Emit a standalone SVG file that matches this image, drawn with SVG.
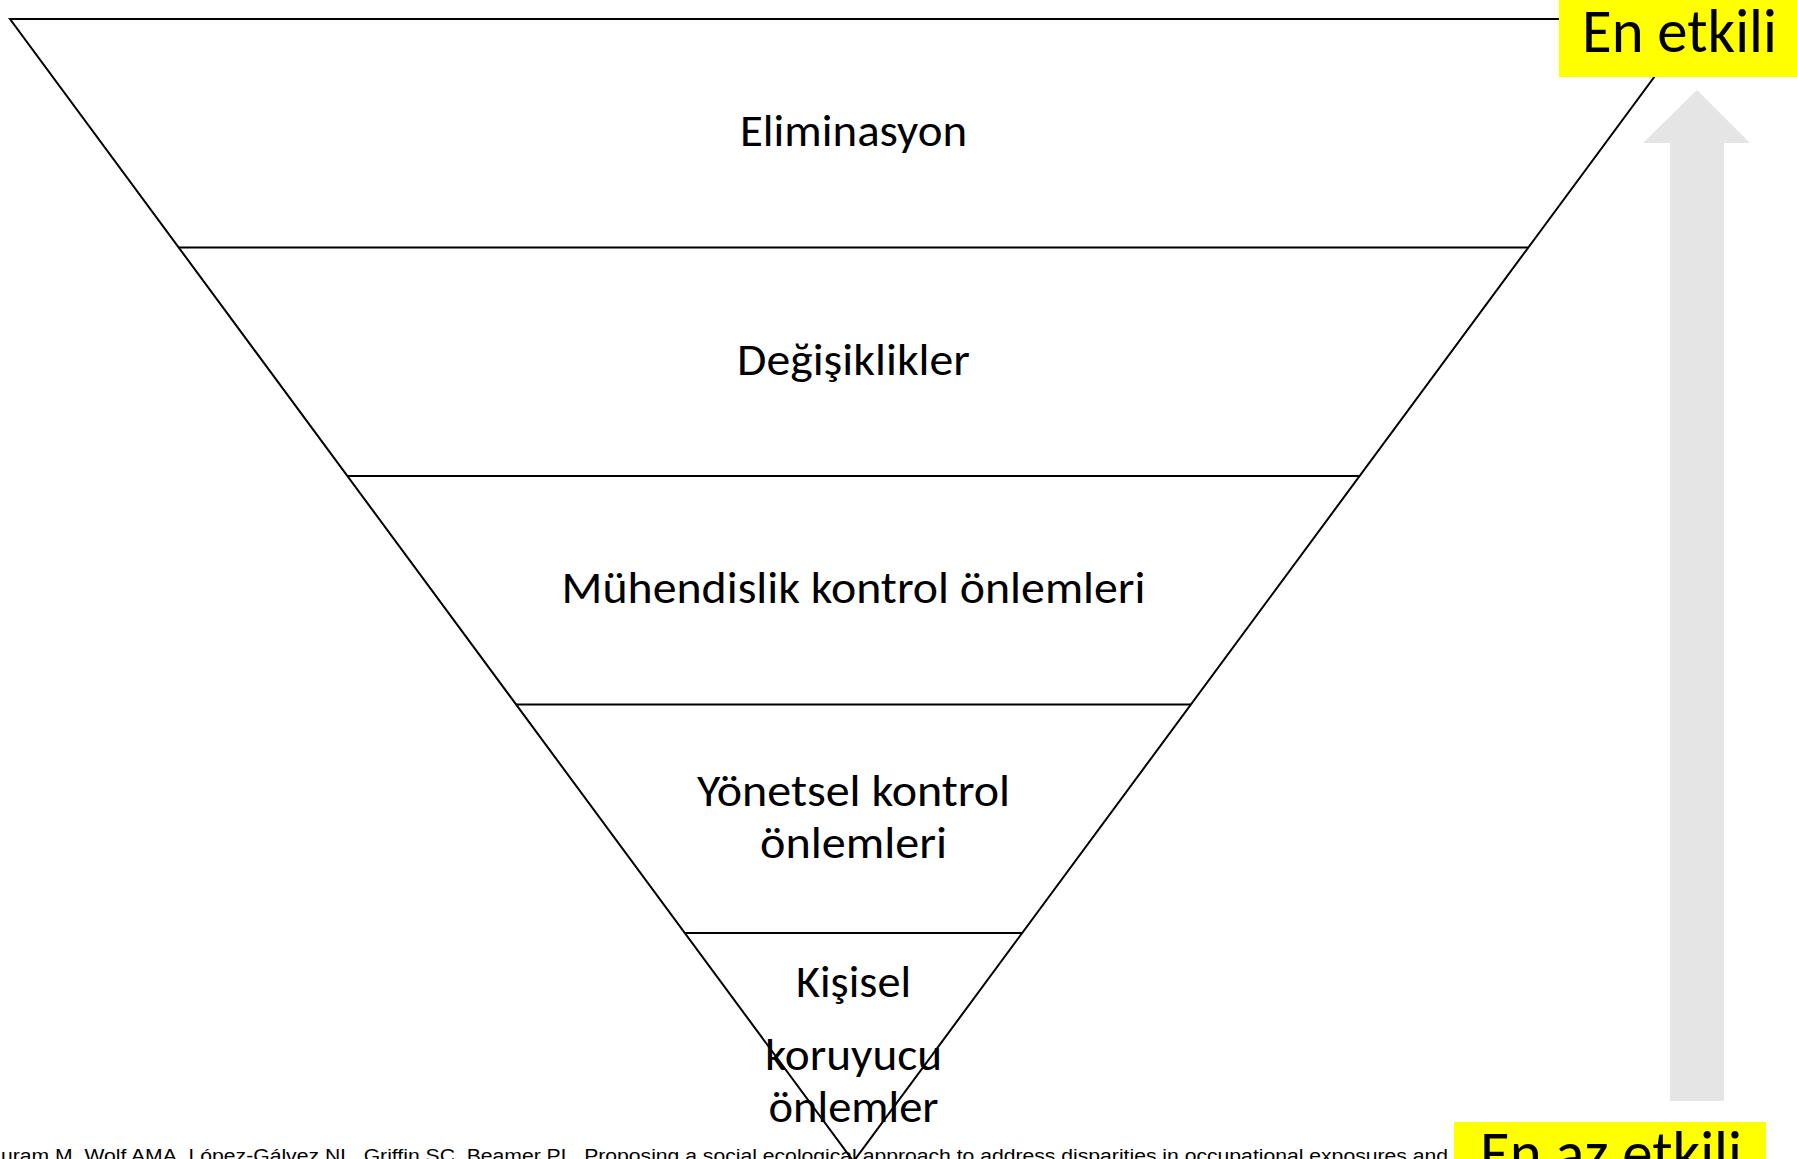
<svg xmlns="http://www.w3.org/2000/svg" width="1797" height="1159" viewBox="0 0 1797 1159">
<style>
.edge{stroke:#000;stroke-width:2;fill:none}
.lbl{font-family:Carlito,Lato,"Open Sans",sans-serif;font-size:46px;fill:#000;text-anchor:middle}
.big{font-family:Carlito,Lato,"Open Sans",sans-serif;font-size:62px;fill:#000;text-anchor:middle}
.ref{font-family:"Liberation Sans",Arial,sans-serif;font-size:18px;fill:#000}
</style>
<rect width="1797" height="1159" fill="#fff"/>
<g id="pyramid">
<polygon class="edge" points="10,19 1697,19 853.5,1161.5"/>
</g>
<g id="connectors">
<line class="edge" x1="178.6" y1="247.5" x2="1528.4" y2="247.5"/>
<line class="edge" x1="347.3" y1="476" x2="1359.7" y2="476"/>
<line class="edge" x1="516" y1="704.5" x2="1191" y2="704.5"/>
<line class="edge" x1="684.8" y1="933" x2="1022.2" y2="933"/>
</g>
<g id="node-eliminasyon">
<text class="lbl" x="853.5" y="146" textLength="227" lengthAdjust="spacingAndGlyphs">Eliminasyon</text>
</g>
<g id="node-degisiklikler">
<text class="lbl" x="853.5" y="375" textLength="233" lengthAdjust="spacingAndGlyphs">Değişiklikler</text>
</g>
<g id="node-muhendislik">
<text class="lbl" x="853.5" y="603" textLength="584" lengthAdjust="spacingAndGlyphs">Mühendislik kontrol önlemleri</text>
</g>
<g id="node-yonetsel">
<text class="lbl" x="853.5" y="806" textLength="313" lengthAdjust="spacingAndGlyphs">Yönetsel kontrol</text>
<text class="lbl" x="853.5" y="858" textLength="187" lengthAdjust="spacingAndGlyphs">önlemleri</text>
</g>
<g id="node-kisisel">
<text class="lbl" x="853.5" y="997" textLength="115" lengthAdjust="spacingAndGlyphs">Kişisel</text>
<text class="lbl" x="853.5" y="1070" textLength="177" lengthAdjust="spacingAndGlyphs">koruyucu</text>
<text class="lbl" x="853.5" y="1122" textLength="170" lengthAdjust="spacingAndGlyphs">önlemler</text>
</g>
<g id="arrow">
<polygon fill="#e5e5e5" points="1697,90 1750,143 1724,143 1724,1101 1670,1101 1670,143 1643,143"/>
</g>
<g id="reference">
<text class="ref" x="1" y="1162" textLength="1447" lengthAdjust="spacingAndGlyphs">uram M, Wolf AMA, López-Gálvez NL, Griffin SC, Beamer PL. Proposing a social ecological approach to address disparities in occupational exposures and</text>
</g>
<g id="label-en-etkili">
<rect x="1559" y="0" width="238" height="77" fill="#ffff00"/>
<text class="big" x="1679.5" y="52" textLength="195" lengthAdjust="spacingAndGlyphs">En etkili</text>
</g>
<g id="label-en-az-etkili">
<rect x="1454" y="1122" width="312" height="40" fill="#ffff00"/>
<text class="big" x="1611" y="1174" textLength="262" lengthAdjust="spacingAndGlyphs">En az etkili</text>
</g>
</svg>
